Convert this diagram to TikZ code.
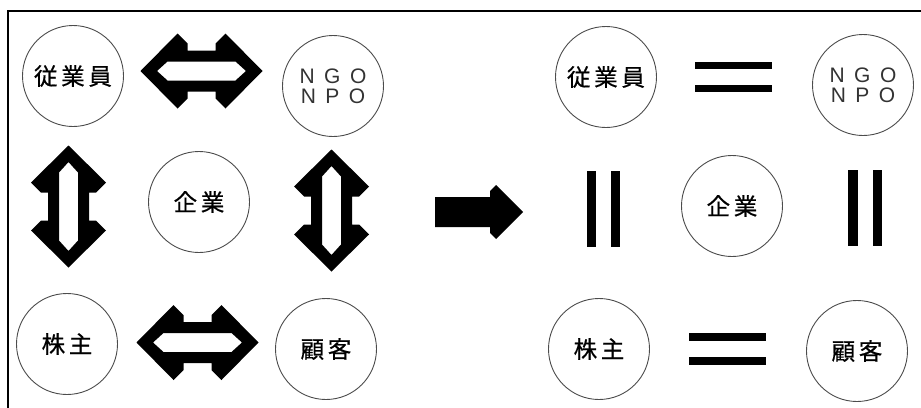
\documentclass[tikz,border=0pt]{standalone}
\usepackage{fontspec}
\newfontfamily\jpfont[LetterSpace=16,FakeBold=0.6]{Noto Sans CJK JP}
\newfontfamily\latfont[LetterSpace=45]{Liberation Sans}
\tikzset{
  ent/.style={circle,draw=black!70,line width=0.9pt,minimum size=101pt,inner sep=0pt,
    font=\jpfont\fontsize{23.5}{23.5}\selectfont},
  ngostyle/.style={ent,font=\latfont\fontsize{21}{20}\selectfont,align=center,text=black!80},
  symfill/.style={fill=black},
  frame/.style={line width=2pt},
  dblarrow/.pic={
    \fill[symfill,even odd rule]
      (-61,0)--(-24,37.5)--(-14,27.5)--(-14,20.5)--(14,20.5)--(14,27.5)--(24,37.5)--(61,0)
      --(24,-37.5)--(14,-27.5)--(14,-20.5)--(-14,-20.5)--(-14,-27.5)--(-24,-37.5)--cycle
      (-44.5,0)--(-34,9.5)--(34,9.5)--(44.5,0)--(34,-9.5)--(-34,-9.5)--cycle;
  }
}
\begin{document}
\begin{tikzpicture}[x=1pt,y=-1pt]
\useasboundingbox (0,0) rectangle (921,407);
\draw[frame] (921,11) -- (8,11) -- (8,408);

% left group
\node[ent] (emp) at (73,76) {従業員};
\node[ngostyle] (ngo) at (333,86) {NGO\\NPO};
\node[ent] (corp) at (199,202) {企業};
\node[ent] (sh) at (67,344) {株主};
\node[ent] (cust) at (326,349) {顧客};

\pic (a1) at (201.5,71) {dblarrow};
\pic (a2) at (197.5,342.5) {dblarrow};
\pic[rotate=90] (a3) at (68.5,206.5) {dblarrow};
\pic[rotate=90] (a4) at (331.5,210.5) {dblarrow};

% block arrow
\fill[symfill] (435,197)--(490,197)--(490,191)--(496,185)--(523,212)--(496,239)--(490,233)--(490,227)--(435,227)--cycle;

% right group
\node[ent] (emp2) at (606,77) {従業員};
\node[ngostyle] (ngo2) at (863,85) {NGO\\NPO};
\node[ent] (corp2) at (732,206) {企業};
\node[ent] (sh2) at (599,349) {株主};
\node[ent] (cust2) at (857,351) {顧客};

\fill[symfill] (695,62) rectangle (772,69);
\fill[symfill] (695,85) rectangle (772,92);
\fill[symfill] (689,333) rectangle (766,341);
\fill[symfill] (689,357) rectangle (766,365);
\fill[symfill] (587,171) rectangle (596,247);
\fill[symfill] (611,171) rectangle (620,247);
\fill[symfill] (848,170) rectangle (858,246);
\fill[symfill] (873,170) rectangle (882,246);
\end{tikzpicture}
\end{document}
